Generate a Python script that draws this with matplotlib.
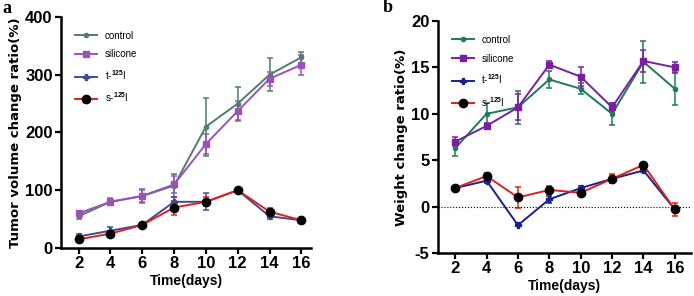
import matplotlib.pyplot as plt

days = [2, 4, 6, 8, 10, 12, 14, 16]
labels = ['control', 'silicone', 't-$^{125}$I', 's-$^{125}$I']

# panel a: tumor volume change ratio
vol_control = [55, 80, 90, 108, 210, 250, 300, 330]
vol_control_err = [5, 5, 10, 20, 50, 28, 28, 10]
vol_silicone = [60, 80, 90, 110, 180, 237, 293, 317]
vol_silicone_err = [4, 6, 12, 15, 18, 18, 12, 17]
vol_t125 = [20, 30, 40, 80, 80, 100, 55, 48]
vol_t125_err = [4, 6, 4, 8, 15, 4, 4, 4]
vol_s125 = [15, 25, 40, 70, 80, 100, 63, 48]
vol_s125_err = [3, 4, 4, 12, 8, 4, 6, 3]

# panel b: weight change ratio
wt_control = [6.3, 10.0, 10.7, 13.7, 12.7, 10.0, 15.6, 12.7]
wt_control_err = [0.8, 1.2, 1.8, 0.9, 0.6, 1.2, 2.3, 1.8]
wt_silicone = [7.0, 8.7, 10.7, 15.3, 14.0, 10.7, 15.7, 15.0]
wt_silicone_err = [0.5, 0.3, 1.4, 0.4, 1.0, 0.5, 1.2, 0.6]
wt_t125 = [2.0, 2.8, -2.0, 0.8, 2.0, 3.0, 3.9, -0.3]
wt_t125_err = [0.2, 0.2, 0.1, 0.4, 0.2, 0.3, 0.2, 0.2]
wt_s125 = [2.0, 3.3, 1.0, 1.8, 1.5, 3.0, 4.5, -0.3]
wt_s125_err = [0.2, 0.3, 1.1, 0.4, 0.3, 0.5, 0.2, 0.7]

plt.rcParams['font.family'] = ['Liberation Sans', 'DejaVu Sans']
plt.rcParams['font.weight'] = 'bold'
plt.rcParams['mathtext.fontset'] = 'custom'
plt.rcParams['mathtext.rm'] = 'Liberation Sans'
plt.rcParams['axes.unicode_minus'] = False

fig = plt.figure(figsize=(6.94, 2.96), dpi=100)
ax1 = fig.add_axes([0.088, 0.162, 0.36, 0.781])
ax2 = fig.add_axes([0.631, 0.145, 0.364, 0.784])


def draw(ax, series, colors, markers, msizes):
    handles = []
    for (y, err), c, m, ms, lab in zip(series, colors, markers, msizes, labels):
        mfc = c if m != 'o' or ms < 5 else 'black'
        cont = ax.errorbar(days, y, yerr=err, color=c, marker=m, ms=ms, mfc=mfc, mec=mfc,
                           lw=1.4, elinewidth=1.1, capsize=2.5, capthick=1.1, label=lab)
        handles.append(cont[0])
    for s in ['top', 'right']:
        ax.spines[s].set_visible(False)
    for s in ['left', 'bottom']:
        ax.spines[s].set_linewidth(1.8)
    ax.tick_params(width=1.6, length=4, labelsize=12, pad=2)
    ax.set_xticks(days)
    ax.set_xlabel('Time(days)', fontsize=10, fontweight='bold', labelpad=2)
    leg = ax.legend(handles, labels, loc='upper left', frameon=False, fontsize=7,
                    handlelength=2.2, labelspacing=0.9, borderaxespad=0.3,
                    bbox_to_anchor=(0.03, 0.97))
    for t in leg.get_texts():
        t.set_fontweight('normal')
    return leg


draw(ax1,
     [(vol_control, vol_control_err), (vol_silicone, vol_silicone_err),
      (vol_t125, vol_t125_err), (vol_s125, vol_s125_err)],
     ['#4f7d6c', '#9b52b8', '#434a8e', '#e0201e'],
     ['o', 's', 'P', 'o'], [3, 4, 4, 6])
ax1.set_xlim(0.9, 16.6)
ax1.set_ylim(0, 400)
ax1.set_yticks([0, 100, 200, 300, 400])
ax1.set_ylabel('Tumor volume change ratio(%)', fontsize=9.5, fontweight='bold',
               family='DejaVu Sans', labelpad=2)

draw(ax2,
     [(wt_control, wt_control_err), (wt_silicone, wt_silicone_err),
      (wt_t125, wt_t125_err), (wt_s125, wt_s125_err)],
     ['#1e7a58', '#7b1fa2', '#1a1f8c', '#e0201e'],
     ['o', 's', 'P', 'o'], [3, 4, 4, 6])
ax2.axhline(0, color='black', lw=0.8, ls=':')
ax2.set_xlim(0.9, 17.0)
ax2.set_ylim(-5, 20)
ax2.set_yticks([-5, 0, 5, 10, 15, 20])
ax2.set_ylabel('Weight change ratio(%)', fontsize=9.5, fontweight='bold',
               family='DejaVu Sans', labelpad=2)

fig.text(0.003, 0.955, 'a', fontsize=13, fontweight='bold', family='Liberation Serif')
fig.text(0.552, 0.96, 'b', fontsize=13, fontweight='bold', family='Liberation Serif')

plt.savefig('out.png', dpi=100)
